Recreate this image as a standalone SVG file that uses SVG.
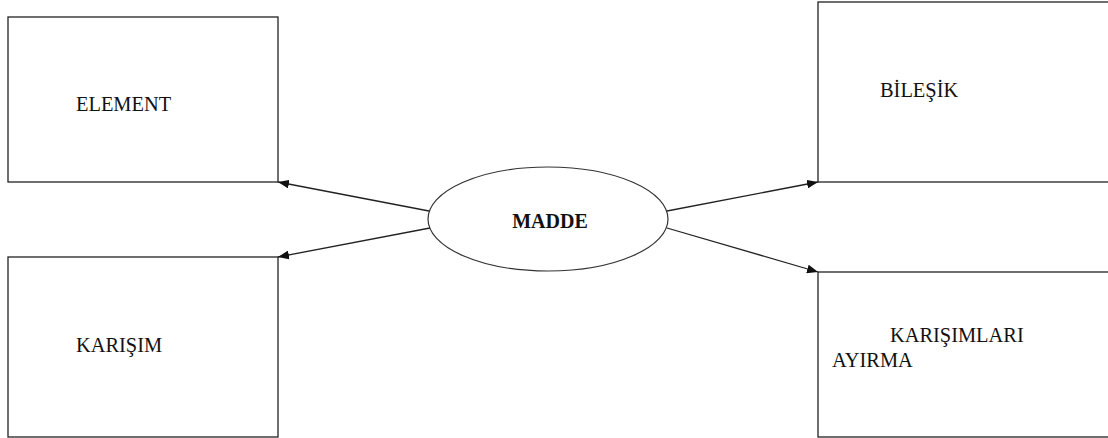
<svg xmlns="http://www.w3.org/2000/svg" width="1108" height="438" viewBox="0 0 1108 438">
  <style>
    .box { fill: #ffffff; stroke: #222222; stroke-width: 1.3; }
    .hub { fill: #ffffff; stroke: #333333; stroke-width: 1.2; }
    .lbl { font-family: "Liberation Serif", "Times New Roman", serif; font-size: 20.4px; fill: #111111; }
    .hubl { font-family: "Liberation Serif", "Times New Roman", serif; font-size: 20px; font-weight: bold; fill: #111111; }
    .link { fill: none; stroke: #222222; stroke-width: 1.3; marker-end: url(#arrow); }
  </style>
  <defs>
    <marker id="arrow" viewBox="0 0 10 8" refX="10" refY="4" markerWidth="11" markerHeight="9" markerUnits="userSpaceOnUse" orient="auto">
      <path d="M0,0 L10,4 L0,8 Z" fill="#111111"/>
    </marker>
  </defs>
  <rect width="1108" height="438" fill="#ffffff"/>

  <g id="element">
    <rect class="box" x="8" y="17" width="270" height="165"/>
    <text class="lbl" x="76" y="111">ELEMENT</text>
  </g>

  <g id="karisim">
    <rect class="box" x="8" y="257" width="270" height="180"/>
    <text class="lbl" x="76" y="352">KARIŞIM</text>
  </g>

  <g id="bilesik">
    <rect class="box" x="818" y="2" width="300" height="180"/>
    <text class="lbl" x="880" y="97">BİLEŞİK</text>
  </g>

  <g id="karisimlari-ayirma">
    <rect class="box" x="818" y="272" width="300" height="165"/>
    <text class="lbl" x="890" y="342">KARIŞIMLARI</text>
    <text class="lbl" x="832" y="367">AYIRMA</text>
  </g>

  <g id="madde">
    <ellipse class="hub" cx="548" cy="219" rx="120" ry="52"/>
    <text class="hubl" x="550" y="228" text-anchor="middle">MADDE</text>
  </g>

  <g id="connectors">
    <line class="link" x1="429" y1="211" x2="278" y2="182"/>
    <line class="link" x1="430" y1="228" x2="278" y2="257"/>
    <line class="link" x1="667" y1="211" x2="818" y2="182"/>
    <line class="link" x1="667" y1="228" x2="818" y2="272"/>
  </g>
</svg>
